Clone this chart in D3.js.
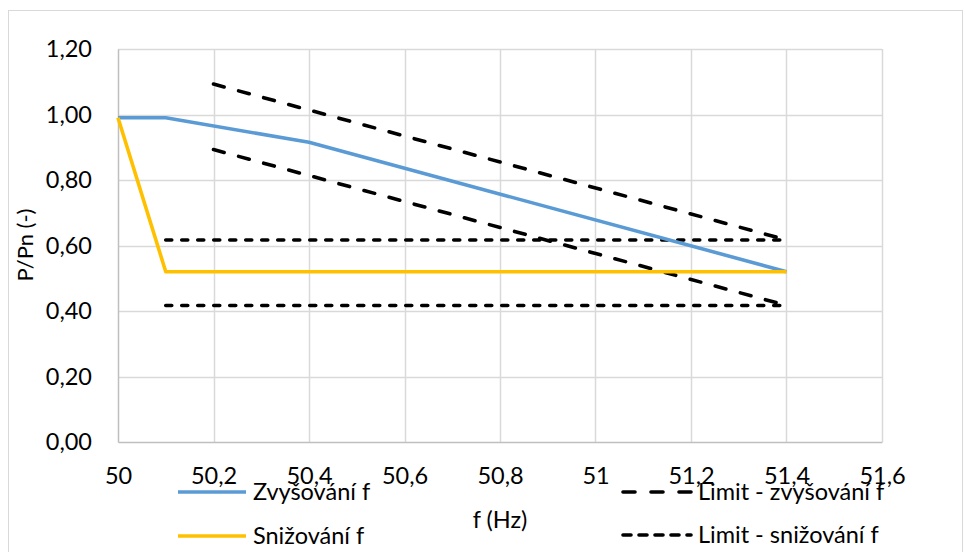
<!DOCTYPE html>
<html>
<head>
<meta charset="utf-8">
<script src="https://cdn.jsdelivr.net/npm/d3@7/dist/d3.min.js"></script>
<style>
  html, body { margin: 0; padding: 0; background: #fff; }
  svg text { font-family: Lato, "Noto Sans", sans-serif; fill: #000; }
</style>
</head>
<body>
<svg id="chart" width="965" height="552"></svg>
<script>
// ---- data ----
const xTickValues = [50, 50.2, 50.4, 50.6, 50.8, 51, 51.2, 51.4, 51.6];
const xTickLabels = ["50", "50,2", "50,4", "50,6", "50,8", "51", "51,2", "51,4", "51,6"];
const yTickValues = [0, 0.2, 0.4, 0.6, 0.8, 1.0, 1.2];
const yTickLabels = ["0,00", "0,20", "0,40", "0,60", "0,80", "1,00", "1,20"];

const zvysovaniX = [50, 50.1, 50.4, 51.4];
const zvysovaniY = [0.99, 0.99, 0.915, 0.52];
const snizovaniX = [50, 50.1, 51.4];
const snizovaniY = [0.99, 0.52, 0.52];
const limitZvysUpperX = [50.2, 51.4];
const limitZvysUpperY = [1.093, 0.617];
const limitZvysLowerX = [50.2, 51.4];
const limitZvysLowerY = [0.893, 0.417];
const limitSnizUpperX = [50.1, 51.4];
const limitSnizUpperY = [0.617, 0.617];
const limitSnizLowerX = [50.1, 51.4];
const limitSnizLowerY = [0.417, 0.417];

const seriesNames = ["Zvyšování f", "Snižování f", "Limit - zvyšování f", "Limit - snižování f"];

// ---- layout ----
const svg = d3.select("#chart");
const mLeft = 118, mRight = 882, mTop = 49, mBottom = 442;
const x = d3.scaleLinear().domain([50, 51.6]).range([mLeft, mRight]);
const y = d3.scaleLinear().domain([0, 1.2]).range([mBottom, mTop]);
const fontSize = 23.5;

const styles = {
  blue: { color: "#5B9BD5", dash: null },
  yellow: { color: "#FFC000", dash: null },
  longDash: { color: "#000000", dash: "11,15" },
  shortDash: { color: "#000000", dash: "6,10" }
};

// outer border
svg.append("rect").attr("x", 8.5).attr("y", 10.5).attr("width", 954).attr("height", 600)
  .attr("fill", "none").attr("stroke", "#D9D9D9").attr("stroke-width", 1);

// gridlines
const grid = svg.append("g");
grid.selectAll("line.h").data(yTickValues.filter(v => v > 0)).join("line")
  .attr("x1", mLeft).attr("x2", mRight)
  .attr("y1", d => Math.round(y(d)) + 0.5).attr("y2", d => Math.round(y(d)) + 0.5)
  .attr("stroke", "#D9D9D9").attr("stroke-width", 1.5);
grid.selectAll("line.v").data(xTickValues.filter(v => v > 50)).join("line")
  .attr("y1", mTop).attr("y2", mBottom)
  .attr("x1", d => Math.round(x(d)) + 0.5).attr("x2", d => Math.round(x(d)) + 0.5)
  .attr("stroke", "#D9D9D9").attr("stroke-width", 1.5);

// axes via d3 axis
const xAxis = d3.axisBottom(x).tickValues(xTickValues)
  .tickFormat((d, i) => xTickLabels[i]).tickSize(0).tickPadding(25);
const gx = svg.append("g").attr("transform", `translate(0,${mBottom})`).call(xAxis);
gx.select(".domain").attr("stroke", "#BFBFBF").attr("stroke-width", 1.5);
gx.selectAll("text").attr("font-size", fontSize).style("font-family", "Lato, 'Noto Sans', sans-serif");

const yAxis = d3.axisLeft(y).tickValues(yTickValues)
  .tickFormat((d, i) => yTickLabels[i]).tickSize(0).tickPadding(26);
const gy = svg.append("g").attr("transform", `translate(${mLeft},0)`).call(yAxis);
gy.select(".domain").attr("stroke", "#BFBFBF").attr("stroke-width", 1.5);
gy.selectAll("text").attr("font-size", fontSize).style("font-family", "Lato, 'Noto Sans', sans-serif");

// axis titles
svg.append("text").attr("x", 500).attr("y", 528).attr("text-anchor", "middle")
  .attr("font-size", fontSize).text("f (Hz)");
svg.append("text").attr("transform", "translate(33,245) rotate(-90)").attr("text-anchor", "middle")
  .attr("font-size", 22).text("P/Pn (-)");

// series
const line = d3.line().x(d => x(d[0])).y(d => y(d[1]));
function drawSeries(xs, ys, st) {
  const pts = xs.map((v, i) => [v, ys[i]]);
  svg.append("path").datum(pts).attr("d", line)
    .attr("fill", "none").attr("stroke", st.color).attr("stroke-width", 3.6)
    .attr("stroke-linejoin", "round")
    .attr("stroke-linecap", st.dash ? "round" : "butt")
    .attr("stroke-dasharray", st.dash);
}
drawSeries(limitZvysUpperX, limitZvysUpperY, styles.longDash);
drawSeries(limitZvysLowerX, limitZvysLowerY, styles.longDash);
drawSeries(limitSnizUpperX, limitSnizUpperY, styles.shortDash);
drawSeries(limitSnizLowerX, limitSnizLowerY, styles.shortDash);
drawSeries(zvysovaniX, zvysovaniY, styles.blue);
drawSeries(snizovaniX, snizovaniY, styles.yellow);

// legend
const legendItems = [
  { name: seriesNames[0], st: styles.blue, x: 178, y: 492 },
  { name: seriesNames[1], st: styles.yellow, x: 178, y: 536 },
  { name: seriesNames[2], st: styles.longDash, x: 623, y: 492 },
  { name: seriesNames[3], st: styles.shortDash, x: 623, y: 535 }
];
const lg = svg.append("g");
legendItems.forEach(it => {
  lg.append("line").attr("x1", it.x).attr("x2", it.x + 68)
    .attr("y1", it.y).attr("y2", it.y)
    .attr("stroke", it.st.color).attr("stroke-width", 3.6)
    .attr("stroke-linecap", it.st.dash ? "round" : "butt")
    .attr("stroke-dasharray", it.st.dash ? (it.st === styles.longDash ? "12,16" : "8,8") : null);
  lg.append("text").attr("x", it.x + 75).attr("y", it.y + 8)
    .attr("font-size", fontSize).text(it.name);
});
</script>
</body>
</html>
